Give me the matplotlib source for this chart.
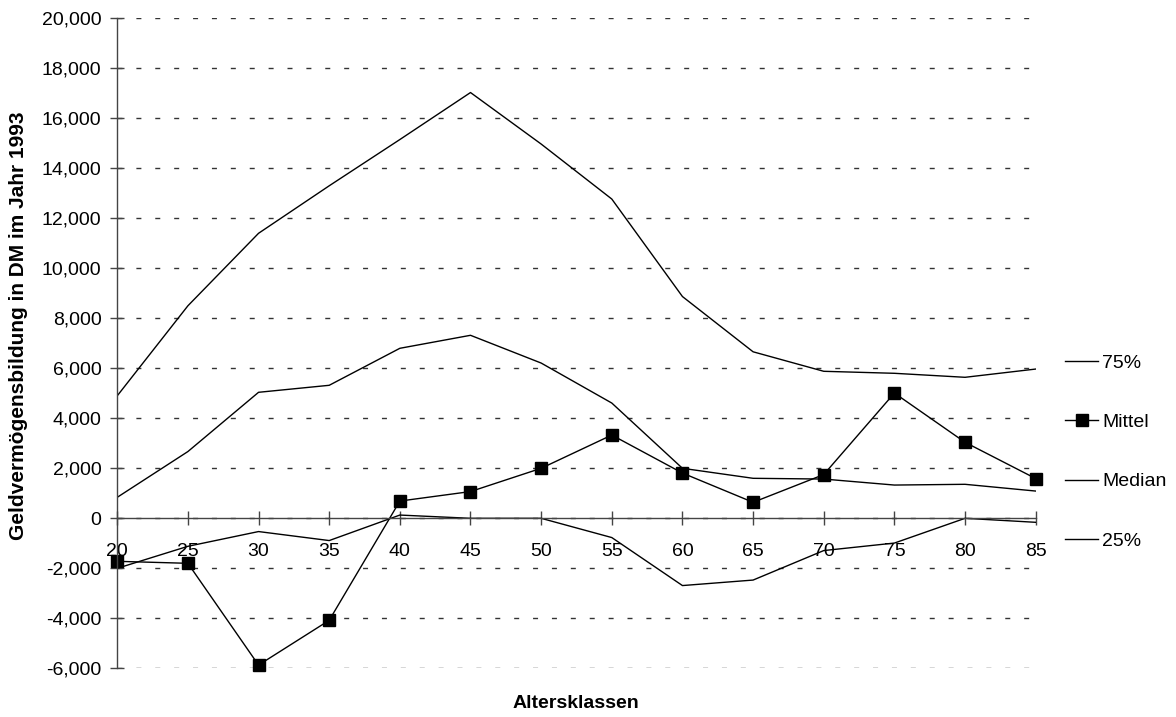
import matplotlib.pyplot as plt

plt.rcParams['font.family'] = ['Liberation Sans', 'DejaVu Sans']

# Altersklassen
ages = [20, 25, 30, 35, 40, 45, 50, 55, 60, 65, 70, 75, 80, 85]

# Geldvermoegensbildung in DM
q75 = [4900, 8500, 11400, 13300, 15150, 17030, 14970, 12770, 8870, 6660, 5880, 5800, 5640, 5970]
mittel = [-1720, -1800, -5870, -4080, 690, 1070, 2000, 3330, 1810, 640, 1750, 5010, 3040, 1590]
median = [840, 2670, 5040, 5320, 6800, 7320, 6210, 4610, 2000, 1600, 1570, 1330, 1360, 1090]
q25 = [-2000, -1120, -530, -890, 130, 0, 0, -770, -2690, -2470, -1290, -990, 0, -160]

fig = plt.figure(figsize=(11.76, 7.17), dpi=100)
ax = fig.add_axes([0.0997, 0.0679, 0.781, 0.9066])

ax.plot(ages, q75, color='black', lw=1.0, label='75%')
ax.plot(ages, mittel, color='black', lw=1.0, marker='s', markersize=8.5,
        clip_on=False, label='Mittel')
ax.plot(ages, median, color='black', lw=1.0, label='Median')
ax.plot(ages, q25, color='black', lw=1.0, label='25%')

ax.set_xlim(20, 85)
ax.set_ylim(-6000, 20000)
ax.set_xticks(ages)
ax.set_yticks(range(-6000, 20001, 2000))
ax.yaxis.set_major_formatter(plt.FuncFormatter(lambda v, p: f'{int(v):,}'))

# x axis crosses at zero
ax.spines['bottom'].set_position(('data', 0))
ax.spines['top'].set_visible(False)
ax.spines['right'].set_visible(False)
for s in ('left', 'bottom'):
    ax.spines[s].set_color('#444444')
    ax.spines[s].set_linewidth(1.0)

ax.tick_params(axis='both', direction='inout', length=9.5, width=1.0,
               color='#444444', labelsize=14)
ax.tick_params(axis='y', pad=6.5)
ax.tick_params(axis='x', pad=13)

ax.yaxis.grid(True, color='#333333', lw=1.0, linestyle=(0, (3.6, 10)))
ax.set_axisbelow(True)

ax.set_ylabel('Geldvermögensbildung in DM im Jahr 1993', fontsize=15,
              fontweight='bold')
ax.yaxis.set_label_coords(-0.097, 0.527)
fig.text(0.49, 0.019, 'Altersklassen', ha='center', va='center',
         fontsize=14, fontweight='bold')

ax.legend(loc='center left', bbox_to_anchor=(1.032, 0.333), frameon=False,
          fontsize=14, borderpad=0, borderaxespad=0, labelspacing=2.15,
          handlelength=1.7, handletextpad=0.2)

fig.savefig('out.png', dpi=100)
